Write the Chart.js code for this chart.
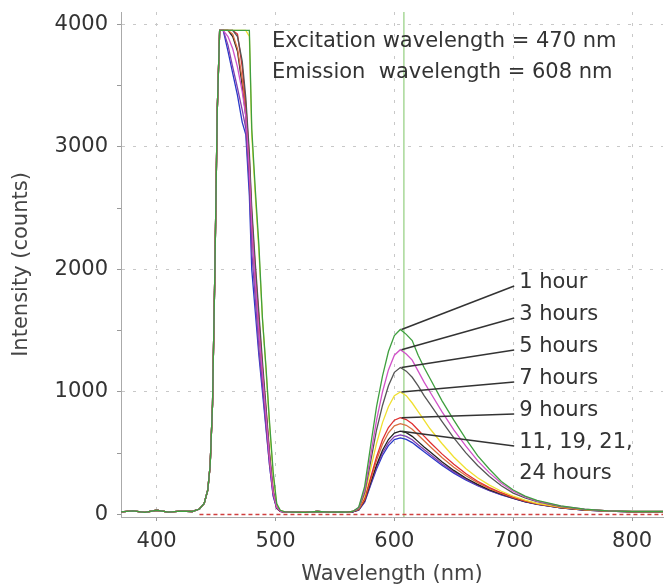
<!DOCTYPE html>
<html>
<head>
<meta charset="utf-8">
<title>Emission spectra</title>
<script src="https://cdn.jsdelivr.net/npm/chart.js@4.4.1/dist/chart.umd.min.js"></script>
<style>
  html, body { margin: 0; padding: 0; background: #fff; }
  #wrap { width: 664px; height: 585px; }
</style>
</head>
<body>
<div id="wrap"><canvas id="spectra" width="664" height="585"></canvas></div>
<script>
// wavelengths (nm) of the three parts of every spectrum
const riseX = [370, 380, 390, 400, 410, 420, 430, 436, 440, 443, 445, 447, 449, 451, 453];
const fallX = [456, 460, 464, 468, 472, 475, 478, 480, 483, 486, 489, 492, 495, 498, 501, 504, 508];
const gapX = [515, 525, 535, 545, 555];
const emissionX = [560, 565, 570, 575, 580, 585, 590, 595, 600, 605, 610, 615, 620, 625, 630,
  640, 650, 660, 670, 680, 690, 700, 710, 720, 740, 760, 780, 800, 826];

// shared baseline + rising edge of the (saturated) excitation peak
const riseY = [22, 30, 18, 35, 20, 28, 25, 45, 90, 200, 400, 900, 2000, 3300, 3950];
const gapY = [20, 18, 25, 20, 22];

const series = ['1 hour', '3 hours', '5 hours', '7 hours', '9 hours', '11 hours', '19 hours', '21 hours', '24 hours'];
const colors = ['#3f9f3f', '#d052c8', '#555555', '#f0e030', '#e03030', '#d87040', '#222222', '#8040b0', '#2838c8'];

// falling edge of the excitation peak, per series
const excFall = [
  [3950, 3950, 3950, 3950, 3950, 3950, 3950, 3150, 2650, 2200, 1600, 1200, 750, 350, 90, 35, 22],
  [3950, 3900, 3800, 3650, 3450, 3250, 2800, 2350, 1900, 1500, 1150, 800, 450, 180, 60, 28, 20],
  [3950, 3950, 3950, 3900, 3700, 3400, 2950, 2500, 2050, 1650, 1250, 880, 500, 200, 60, 28, 20],
  [3950, 3950, 3950, 3950, 3950, 3950, 3900, 3100, 2600, 2150, 1600, 1180, 720, 320, 80, 32, 22],
  [3950, 3950, 3950, 3920, 3650, 3350, 2900, 2450, 2000, 1600, 1200, 850, 480, 190, 60, 28, 20],
  [3950, 3950, 3920, 3800, 3550, 3300, 2850, 2400, 1950, 1550, 1180, 830, 470, 185, 58, 27, 20],
  [3950, 3950, 3900, 3780, 3500, 3250, 2800, 2350, 1900, 1500, 1150, 800, 450, 180, 55, 26, 20],
  [3950, 3830, 3650, 3480, 3300, 3150, 2700, 2150, 1750, 1350, 1050, 720, 400, 160, 50, 25, 20],
  [3950, 3780, 3600, 3420, 3200, 3100, 2600, 2000, 1650, 1300, 1000, 700, 400, 150, 50, 25, 20]
];

// emission band, per series
const emission = [
  [20, 25, 60, 230, 560, 880, 1130, 1330, 1460, 1510, 1470, 1420, 1300, 1200, 1110, 930, 770, 620, 480, 370, 270, 200, 150, 115, 70, 45, 30, 25, 25],
  [20, 25, 55, 200, 480, 770, 1000, 1180, 1300, 1345, 1310, 1260, 1170, 1080, 1000, 840, 690, 560, 440, 340, 255, 190, 145, 110, 68, 44, 30, 25, 25],
  [20, 25, 50, 180, 430, 690, 890, 1050, 1160, 1200, 1170, 1120, 1050, 970, 900, 760, 625, 505, 400, 310, 235, 175, 135, 105, 65, 42, 30, 25, 25],
  [20, 25, 50, 160, 370, 580, 750, 880, 970, 1000, 970, 910, 840, 770, 700, 580, 470, 375, 300, 240, 190, 150, 118, 92, 60, 40, 30, 25, 25],
  [20, 25, 45, 130, 300, 470, 610, 710, 770, 790, 775, 740, 690, 640, 590, 495, 410, 335, 272, 220, 178, 142, 112, 90, 58, 40, 30, 24, 24],
  [20, 25, 42, 122, 282, 442, 573, 667, 724, 742, 728, 696, 649, 602, 555, 465, 386, 318, 260, 212, 172, 138, 109, 88, 56, 38, 29, 23, 23],
  [18, 22, 40, 112, 260, 405, 525, 612, 665, 680, 668, 638, 595, 552, 512, 430, 360, 298, 246, 202, 166, 134, 106, 86, 55, 37, 28, 22, 22],
  [18, 22, 38, 105, 248, 388, 502, 585, 636, 650, 638, 610, 570, 530, 492, 414, 348, 290, 240, 198, 163, 132, 105, 85, 54, 37, 28, 21, 21],
  [18, 22, 36, 100, 238, 372, 482, 562, 611, 625, 613, 587, 550, 512, 476, 402, 338, 283, 236, 196, 161, 131, 104, 84, 54, 36, 28, 21, 21]
];

// red dashed zero trace
const zeroX = [436, 826];
const zeroY = [0, 0];

// axes
const xTicks = [400, 500, 600, 700, 800];
const yTicks = [0, 500, 1000, 1500, 2000, 2500, 3000, 3500, 4000];

// annotations
const emissionMark = 608;
const headerLines = ['Excitation wavelength = 470 nm', 'Emission  wavelength = 608 nm'];
const headerX = 497;
const headerY = [3855, 3610];
const hourLabels = ['1 hour', '3 hours', '5 hours', '7 hours', '9 hours', '11, 19, 21,', '24 hours'];
const hourLabelY = [1889, 1628, 1367, 1106, 845, 584, 331];
const leaderSeries = [0, 1, 2, 3, 4, 6, null];
const labelX = 705;
const leaderEndX = 606;

const allX = riseX.concat(fallX, gapX, emissionX);

const datasets = series.map((name, i) => {
  const ys = riseY.concat(excFall[i], gapY, emission[i]);
  return {
    label: name,
    data: allX.map((x, k) => ({ x, y: ys[k] })),
    borderColor: colors[i],
    borderWidth: 1.3,
    pointRadius: 0,
    tension: 0,
    fill: false
  };
});
datasets.unshift({
  label: 'blank',
  data: zeroX.map((x, k) => ({ x, y: zeroY[k] })),
  borderColor: '#d04040',
  borderWidth: 1.5,
  borderDash: [4, 3],
  pointRadius: 0
});

const overlay = {
  id: 'overlay',
  beforeDatasetsDraw(chart) {
    const { ctx, chartArea, scales: { x } } = chart;
    const px = x.getPixelForValue(emissionMark);
    ctx.save();
    ctx.strokeStyle = '#a8d898';
    ctx.lineWidth = 1.5;
    ctx.beginPath();
    ctx.moveTo(px, chartArea.top);
    ctx.lineTo(px, chartArea.bottom);
    ctx.stroke();
    ctx.restore();
  },
  afterDatasetsDraw(chart) {
    const { ctx, scales: { x, y } } = chart;
    ctx.save();
    ctx.font = '21px "DejaVu Sans"';
    ctx.fillStyle = '#333';
    ctx.textBaseline = 'middle';
    headerLines.forEach((t, i) => {
      ctx.fillText(t, x.getPixelForValue(headerX), y.getPixelForValue(headerY[i]));
    });
    ctx.strokeStyle = '#333';
    ctx.lineWidth = 1.5;
    const lx = x.getPixelForValue(labelX);
    hourLabels.forEach((t, i) => {
      const ty = y.getPixelForValue(hourLabelY[i]);
      ctx.fillText(t, lx, ty);
      const s = leaderSeries[i];
      if (s === null) return;
      const peak = Math.max(...emission[s]);
      ctx.beginPath();
      ctx.moveTo(lx - 5, ty + 3);
      ctx.lineTo(x.getPixelForValue(leaderEndX), y.getPixelForValue(peak));
      ctx.stroke();
    });
    ctx.restore();
  }
};

const tickFont = { family: 'DejaVu Sans', size: 21 };

new Chart(document.getElementById('spectra'), {
  type: 'line',
  data: { datasets },
  options: {
    responsive: false,
    animation: false,
    layout: { padding: { top: 12, right: 1, left: 0, bottom: 0 } },
    plugins: { legend: { display: false }, tooltip: { enabled: false } },
    scales: {
      x: {
        type: 'linear',
        min: 370,
        max: 826,
        afterBuildTicks: s => { s.ticks = xTicks.map(v => ({ value: v })); },
        afterFit: s => { s.height = 68; s.paddingLeft = 0; s.paddingRight = 0; },
        grid: { color: '#c8c8c8', tickColor: '#999', tickLength: 4 },
        border: { color: '#aaa', width: 1, dash: [3, 8] },
        ticks: { font: tickFont, color: '#333', padding: 8, maxRotation: 0 },
        title: {
          display: true,
          text: 'Wavelength (nm)',
          font: { family: 'DejaVu Sans', size: 21, lineHeight: 1 },
          color: '#444',
          padding: { top: 0, bottom: 0 }
        }
      },
      y: {
        min: -20,
        max: 4100,
        afterBuildTicks: s => { s.ticks = yTicks.map(v => ({ value: v })); },
        afterFit: s => { s.width = 121; s.paddingTop = 0; s.paddingBottom = 0; },
        grid: {
          color: c => (c.tick && c.tick.value % 1000 === 0 && c.tick.value !== 0) ? '#c8c8c8' : 'rgba(0,0,0,0)',
          tickColor: '#999',
          tickLength: 4
        },
        border: { color: '#aaa', width: 1, dash: [3, 8] },
        ticks: {
          font: tickFont,
          color: '#333',
          padding: 9,
          callback: v => (v % 1000 === 0 ? v : '')
        },
        title: {
          display: true,
          text: 'Intensity (counts)',
          font: { family: 'DejaVu Sans', size: 21, lineHeight: 1 },
          color: '#444',
          padding: { top: 11, bottom: 11 }
        }
      }
    }
  },
  plugins: [overlay]
});
</script>
</body>
</html>
